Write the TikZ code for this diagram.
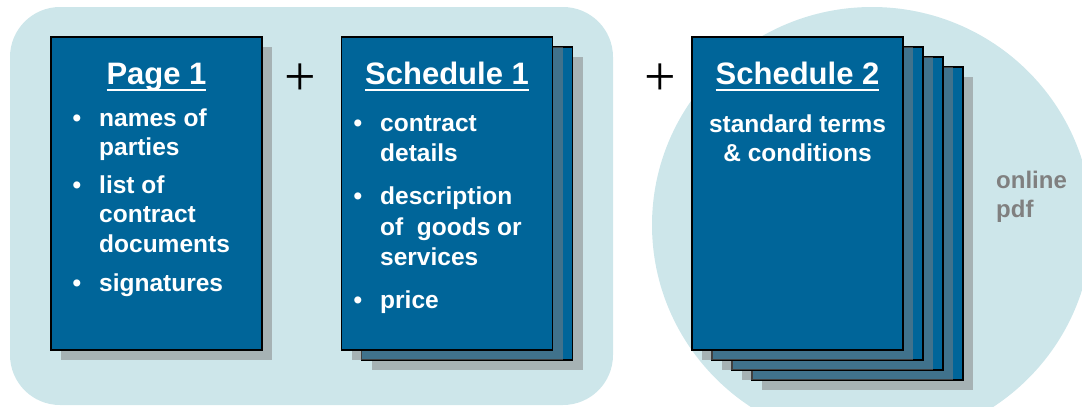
\documentclass[tikz,border=0pt]{standalone}
\usepackage{fontspec}
\setmainfont{Liberation Sans}
\newfontfamily\plusfont{Liberation Serif}
\usetikzlibrary{shadows}

\definecolor{cardblue}{RGB}{0,101,153}
\definecolor{paleblue}{RGB}{205,230,234}
\definecolor{notegray}{RGB}{128,128,128}

% title with a fixed underline
\newcommand{\headline}[1]{\setbox0\hbox{#1}\rlap{\rule[-7pt]{\wd0}{2.2pt}}\box0}

\tikzset{
  card/.style={rectangle, draw=black, line width=1.2pt, fill=cardblue,
    minimum width=211pt, minimum height=313pt, inner sep=0pt,
    drop shadow={shadow xshift=10pt, shadow yshift=-10pt, fill=gray, opacity=0.5}},
  head/.style={text=white, font=\fontsize{31}{36}\selectfont\bfseries, anchor=base, inner sep=0pt},
  item/.style={text=white, font=\fontsize{24.5}{29}\selectfont\bfseries, anchor=base west, inner sep=0pt},
  bulletmark/.style={text=white, font=\fontsize{24.5}{29}\selectfont\bfseries, anchor=base, inner sep=0pt},
  note/.style={text=notegray, font=\fontsize{24}{29}\selectfont\bfseries, anchor=base west, inner sep=0pt},
  plussign/.style={font=\plusfont\fontsize{56}{60}\selectfont, inner sep=0pt}
}

\begin{document}
\begin{tikzpicture}[x=1pt, y=-1pt]
    \clip (0,0) rectangle (1082,407);
    \fill[paleblue, rounded corners=50pt] (10,7) rectangle (613,405);
    \fill[paleblue] (872,225) ellipse [x radius=220, y radius=218];

    % page 1
    \node[card] (page1) at (156.5,193.5) {};
    \node[head] (page1title) at (156.5,84) {\headline{Page 1}};
    \node[bulletmark] (p1b1) at (77,126) {\textbullet};
    \node[item] (names) at (99,126) {names of};
    \node[item] (parties) at (99,155) {parties};
    \node[bulletmark] (p1b2) at (77,193) {\textbullet};
    \node[item] (listof) at (99,193) {list of};
    \node[item] (contract) at (99,222.5) {contract};
    \node[item] (documents) at (99,252) {documents};
    \node[bulletmark] (p1b3) at (77,291) {\textbullet};
    \node[item] (signatures) at (99,291) {signatures};

    \node[plussign] (plus1) at (300,80) {+};

    % schedule 1
    \node[card] (sched1back) at (467,203.5) {};
    \node[card] (sched1) at (447,193.5) {};
    \node[head] (sched1title) at (447,84) {\headline{Schedule 1}};
    \node[bulletmark] (s1b1) at (358,131) {\textbullet};
    \node[item] (details1) at (380,131) {contract};
    \node[item] (details2) at (380,161) {details};
    \node[bulletmark] (s1b2) at (358,204) {\textbullet};
    \node[item] (goods1) at (380,204) {description};
    \node[item] (goods2) at (380,235) {of~~goods or};
    \node[item] (goods3) at (380,265) {services};
    \node[bulletmark] (s1b3) at (358,308) {\textbullet};
    \node[item] (price) at (380,308) {price};

    \node[plussign] (plus2) at (660,80) {+};

    % schedule 2
    \node[card] (sched2back3) at (857.5,223.5) {};
    \node[card] (sched2back2) at (837.5,213.5) {};
    \node[card] (sched2back1) at (817.5,203.5) {};
    \node[card] (sched2) at (797.5,193.5) {};
    \node[head] (sched2title) at (797.5,84) {\headline{Schedule 2}};
    \node[item, anchor=base] (terms1) at (797.5,132) {standard terms};
    \node[item, anchor=base] (terms2) at (797.5,161) {\& conditions};

    \node[note] (online) at (996,188) {online};
    \node[note] (pdf) at (996,217) {pdf};
\end{tikzpicture}
\end{document}
